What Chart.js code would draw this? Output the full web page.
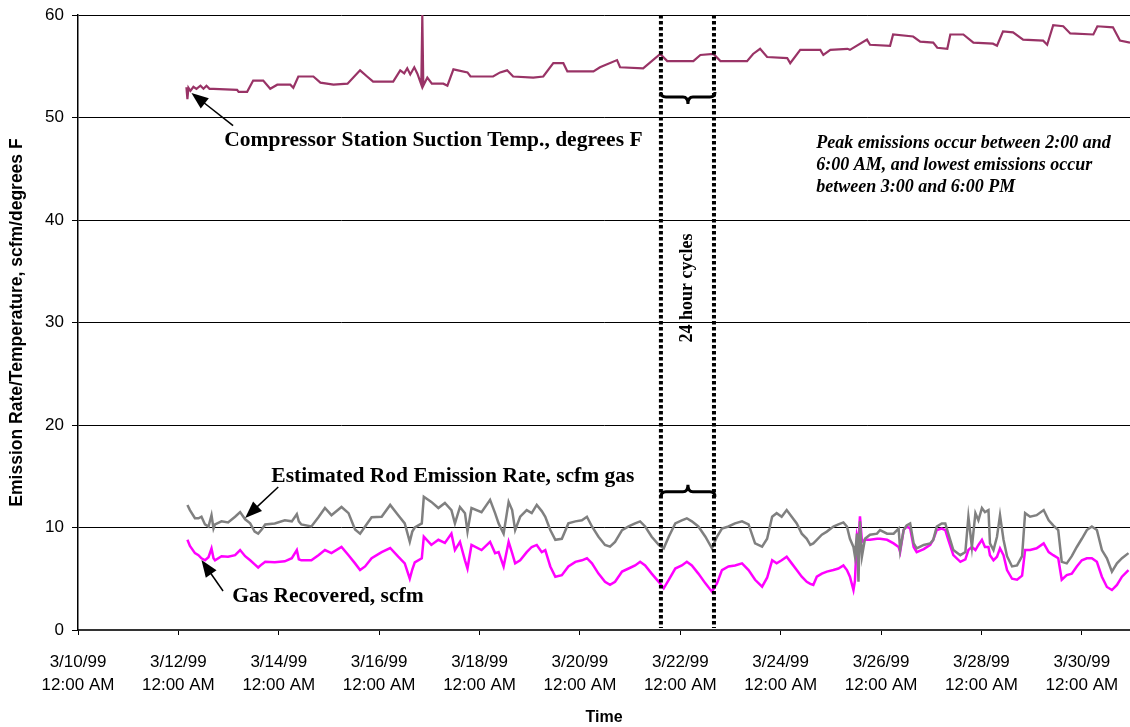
<!DOCTYPE html>
<html>
<head>
<meta charset="utf-8">
<title>Emission rate and suction temperature</title>
<script src="https://cdn.jsdelivr.net/npm/chart.js@4.4.1/dist/chart.umd.min.js"></script>
<style>
  body { margin: 0; background: #fff; }
  #wrap { width: 1130px; height: 727px; }
</style>
</head>
<body>
<div id="wrap"><canvas id="emissionChart"></canvas></div>
<script>
// x values are days since 3/10/99 12:00 AM
const tickDates = ['3/10/99', '3/12/99', '3/14/99', '3/16/99', '3/18/99', '3/20/99',
                   '3/22/99', '3/24/99', '3/26/99', '3/28/99', '3/30/99'];

// Compressor station suction temperature, degrees F
const tempDays = [2.16,2.18,2.20,2.24,2.30,2.36,2.44,2.50,2.56,2.62,
  2.70,3.17,3.20,3.37,3.49,3.69,3.83,3.97,4.23,4.29,
  4.39,4.69,4.83,5.09,5.37,5.62,5.76,5.88,6.28,6.42,
  6.50,6.56,6.62,6.70,6.76,6.84,6.86,6.87,6.88,6.96,
  7.05,7.28,7.36,7.48,7.76,7.82,8.27,8.41,8.55,8.67,
  9.07,9.27,9.47,9.67,9.75,10.27,10.40,10.74,10.80,11.26,
  11.60,11.74,12.26,12.40,12.66,12.80,13.33,13.45,13.59,13.73,
  14.13,14.19,14.39,14.79,14.85,14.99,15.33,15.38,15.72,15.78,
  16.18,16.24,16.64,16.78,17.04,17.12,17.32,17.38,17.64,17.84,
  18.23,18.31,18.43,18.63,18.83,19.23,19.31,19.43,19.63,19.77,
  20.23,20.31,20.62,20.76,20.96];
const tempVals = [52.95,51.8,52.9,52.6,53.0,52.8,53.1,52.8,53.1,52.8,
  52.8,52.7,52.5,52.5,53.6,53.6,52.8,53.2,53.2,52.9,
  54.0,54.0,53.4,53.2,53.3,54.6,54.0,53.5,53.5,54.6,
  54.3,54.8,54.2,54.9,54.3,53.2,60.0,60.0,53.1,53.9,
  53.3,53.3,53.1,54.7,54.4,54.0,54.0,54.4,54.6,54.0,
  53.9,54.0,55.3,55.3,54.5,54.5,54.9,55.6,54.9,54.8,
  56.2,55.5,55.5,56.1,56.2,55.5,55.5,56.2,56.7,55.9,
  55.8,55.3,56.6,56.6,56.1,56.6,56.7,56.6,57.6,57.1,
  57.0,58.1,57.9,57.4,57.3,56.8,56.7,58.1,58.1,57.3,
  57.2,57.0,58.4,58.3,57.6,57.5,57.1,59.0,58.9,58.2,
  58.1,58.9,58.8,57.5,57.3];

// rod emission rate and gas recovered, scfm (same time stamps)
const flowDays = [2.18,2.23,2.33,2.40,2.46,2.53,2.60,2.66,2.70,2.73,
  2.86,2.99,3.13,3.23,3.33,3.43,3.52,3.59,3.66,3.73,
  3.92,4.12,4.26,4.36,4.40,4.45,4.65,4.79,4.92,5.05,
  5.25,5.39,5.52,5.62,5.72,5.85,6.05,6.22,6.38,6.51,
  6.61,6.66,6.71,6.85,6.89,7.04,7.18,7.31,7.44,7.51,
  7.61,7.71,7.76,7.84,8.04,8.21,8.31,
  8.38,8.48,8.58,8.65,8.71,8.81,8.94,9.04,9.14,9.24,
  9.31,9.41,9.51,9.64,9.77,9.91,10.04,10.14,10.24,10.37,
  10.50,10.60,10.70,10.84,10.97,11.10,11.20,11.30,11.43,11.57,
  11.67,11.77,11.90,12.03,12.13,12.23,12.36,12.50,12.63,12.73,
  12.83,12.96,13.09,13.23,13.36,13.49,13.63,13.73,13.83,13.92,
  14.02,14.12,14.22,14.32,14.42,14.52,14.59,
  14.65,14.72,14.82,14.92,15.05,15.15,15.25,15.32,15.38,15.45,
  15.48,15.52,15.55,15.58,15.62,15.68,15.78,15.92,15.98,16.12,
  16.25,16.35,16.38,16.45,16.51,16.58,16.65,16.71,16.85,16.98,
  17.04,17.11,17.21,17.28,17.34,17.44,17.58,17.68,17.74,17.81,
  17.88,17.94,18.01,18.07,18.14,18.17,18.24,18.31,18.37,18.44,
  18.51,18.61,18.71,18.81,18.87,18.97,19.10,19.24,19.34,19.43,
  19.53,19.60,19.70,19.80,19.90,20.00,20.10,20.20,20.30,20.40,
  20.50,20.60,20.70,20.80,20.93];
const rodEmission = [12.2,11.7,10.9,10.9,11.05,10.3,10.1,11.2,9.9,10.3,
  10.6,10.5,11.05,11.5,10.8,10.4,9.6,9.4,9.8,10.3,
  10.4,10.7,10.6,11.3,10.6,10.3,10.1,11.0,11.9,11.2,
  12.0,11.4,9.8,9.4,10.1,11.0,11.05,12.2,11.2,10.4,
  8.6,9.6,10.0,10.4,13.0,12.5,11.9,12.4,11.7,10.4,
  12.0,11.4,9.6,11.9,11.5,12.7,11.4,
  10.4,9.4,12.5,11.7,9.75,11.05,11.7,11.4,12.2,11.6,
  11.05,9.75,8.8,8.9,10.4,10.6,10.7,11.05,10.1,9.1,
  8.3,8.13,8.6,9.75,10.1,10.4,10.6,10.1,9.1,8.3,
  7.97,9.1,10.4,10.7,10.9,10.6,10.1,9.1,7.97,9.1,
  9.9,10.1,10.4,10.6,10.3,8.45,8.13,8.9,11.05,11.4,
  11.05,11.7,11.05,10.4,9.4,8.9,8.3,
  8.45,8.8,9.3,9.6,10.1,10.3,10.5,10.1,8.9,8.1,
  7.2,9.4,4.7,10.6,7.2,8.9,9.3,9.4,9.75,9.4,
  9.4,9.9,7.8,9.75,10.2,10.4,8.45,7.97,8.3,8.45,
  8.8,10.1,10.4,10.4,9.4,7.8,7.3,7.6,11.05,8.1,
  11.4,10.7,11.9,11.5,11.7,8.45,7.8,9.1,11.2,8.8,
  7.2,6.2,6.3,7.2,11.4,11.05,11.2,11.7,10.7,10.2,
  9.75,6.65,6.5,7.2,8.1,8.9,9.75,10.1,9.75,7.8,
  7.0,5.7,6.5,7.0,7.5];
const gasRecovered = [8.8,8.2,7.5,7.3,7.0,6.8,7.1,7.95,7.0,6.8,
  7.2,7.15,7.3,7.8,7.2,6.8,6.4,6.1,6.4,6.65,
  6.6,6.7,7.0,7.8,6.9,6.8,6.8,7.3,7.8,7.5,
  8.1,7.3,6.5,5.85,6.2,7.0,7.6,8.0,7.15,6.5,
  5.0,5.9,6.6,7.0,9.1,8.3,8.8,8.5,9.4,7.8,
  8.6,6.8,6.0,8.3,7.8,8.6,7.5,
  7.6,6.2,8.6,7.5,6.5,6.8,7.6,8.1,8.3,7.6,
  7.8,6.2,5.2,5.35,6.2,6.65,6.8,7.0,6.5,5.5,
  4.7,4.4,4.7,5.7,6.0,6.3,6.65,6.3,5.5,4.7,
  4.07,4.9,6.0,6.3,6.65,6.3,5.5,4.55,3.74,4.55,
  5.85,6.2,6.3,6.5,5.85,4.9,4.23,5.1,6.8,6.5,
  6.8,7.15,6.5,5.85,5.2,4.7,4.5,
  4.4,5.2,5.5,5.7,5.85,6.0,6.3,5.85,5.2,3.9,
  4.8,9.2,8.6,11.1,8.6,8.8,8.8,8.9,8.9,8.8,
  8.45,8.1,7.6,9.75,10.1,9.9,8.1,7.6,7.9,8.3,
  8.8,9.75,9.9,9.75,8.8,7.3,6.65,6.9,7.8,8.1,
  7.8,8.3,8.8,8.1,8.1,7.3,6.8,7.15,7.97,7.3,
  5.85,5.0,4.9,5.3,7.8,7.8,7.97,8.45,7.6,7.3,
  7.0,4.9,5.35,5.5,6.2,6.8,7.0,7.0,6.65,5.2,
  4.2,3.9,4.4,5.2,5.85];

// the two dotted markers bounding one daily cycle
const cycleDays = [11.614, 12.671];
const noteLines = ['Peak emissions occur between 2:00 and',
                   '6:00 AM, and lowest emissions occur',
                   'between 3:00 and 6:00 PM'];

function toPoints(days, vals) {
  return days.map((d, i) => ({ x: d, y: vals[i] }));
}

const serif = '"Liberation Serif", "Times New Roman", serif';

function drawArrow(ctx, x1, y1, x2, y2) {
  const a = Math.atan2(y2 - y1, x2 - x1);
  const len = 17, half = 6.5;
  ctx.beginPath();
  ctx.moveTo(x1, y1);
  ctx.lineTo(x2 - Math.cos(a) * len * 0.7, y2 - Math.sin(a) * len * 0.7);
  ctx.stroke();
  ctx.beginPath();
  ctx.moveTo(x2, y2);
  ctx.lineTo(x2 - len * Math.cos(a) + half * Math.sin(a), y2 - len * Math.sin(a) - half * Math.cos(a));
  ctx.lineTo(x2 - len * Math.cos(a) - half * Math.sin(a), y2 - len * Math.sin(a) + half * Math.cos(a));
  ctx.closePath();
  ctx.fill();
}

// dir 1: tip points down, dir -1: tip points up
function drawBrace(ctx, x1, x2, yy, dir) {
  const xm = (x1 + x2) / 2, c = 5, t = 7;
  ctx.beginPath();
  ctx.moveTo(x1, yy - dir * c);
  ctx.quadraticCurveTo(x1, yy, x1 + c, yy);
  ctx.lineTo(xm - c, yy);
  ctx.quadraticCurveTo(xm, yy, xm, yy + dir * t);
  ctx.quadraticCurveTo(xm, yy, xm + c, yy);
  ctx.lineTo(x2 - c, yy);
  ctx.quadraticCurveTo(x2, yy, x2, yy - dir * c);
  ctx.stroke();
}

const annotate = {
  id: 'annotate',
  afterDatasetsDraw(chart) {
    const { ctx, scales: { x, y } } = chart;
    const px = d => x.getPixelForValue(d);
    const py = v => y.getPixelForValue(v);
    ctx.save();
    ctx.strokeStyle = '#000';
    ctx.fillStyle = '#000';

    // dotted cycle markers
    ctx.lineWidth = 4;
    ctx.setLineDash([3.5, 2.5]);
    cycleDays.forEach(d => {
      ctx.beginPath();
      ctx.moveTo(px(d), py(60));
      ctx.lineTo(px(d), py(0.2));
      ctx.stroke();
    });
    ctx.setLineDash([]);

    // braces
    ctx.lineWidth = 3;
    drawBrace(ctx, px(cycleDays[0]), px(cycleDays[1]) + 1, py(52.0), 1);
    drawBrace(ctx, px(cycleDays[0]), px(cycleDays[1]) + 1, py(13.5), -1);

    // arrows
    ctx.lineWidth = 1.5;
    drawArrow(ctx, px(3.09), py(49.2), px(2.26), py(52.4));
    drawArrow(ctx, px(3.99), py(13.95), px(3.33), py(10.93));
    drawArrow(ctx, px(2.89), py(3.8), px(2.46), py(6.83));

    // series labels
    ctx.textBaseline = 'alphabetic';
    ctx.textAlign = 'left';
    ctx.font = 'bold 21.5px ' + serif;
    ctx.fillText('Compressor Station Suction Temp., degrees F', px(2.914), py(47.25));
    ctx.fillText('Estimated Rod Emission Rate, scfm gas', px(3.851), py(14.47));
    ctx.fillText('Gas Recovered, scfm', px(3.074), py(2.73));

    // note
    ctx.font = 'italic bold 18px ' + serif;
    const noteY = [46.99, 44.88, 42.76];
    noteLines.forEach((s, i) => ctx.fillText(s, px(14.707), py(noteY[i])));

    // rotated cycle label
    ctx.save();
    ctx.translate(px(12.15), py(33.37));
    ctx.rotate(-Math.PI / 2);
    ctx.textAlign = 'center';
    ctx.textBaseline = 'middle';
    ctx.font = 'bold 18px ' + serif;
    ctx.fillText('24 hour cycles', 0, 0);
    ctx.restore();

    ctx.restore();
  }
};

Chart.defaults.font.family = '"Liberation Sans", Arial, sans-serif';
Chart.defaults.color = '#000';

const ctx = document.getElementById('emissionChart').getContext('2d');
new Chart(ctx, {
  type: 'line',
  data: {
    datasets: [
      {
        label: 'Estimated Rod Emission Rate, scfm gas',
        data: toPoints(flowDays, rodEmission),
        borderColor: '#808080',
        borderWidth: 2.5
      },
      {
        label: 'Gas Recovered, scfm',
        data: toPoints(flowDays, gasRecovered),
        borderColor: '#ff00ff',
        borderWidth: 2.5
      },
      {
        label: 'Compressor Station Suction Temp., degrees F',
        data: toPoints(tempDays, tempVals),
        borderColor: '#993366',
        borderWidth: 2.2
      }
    ]
  },
  options: {
    responsive: true,
    maintainAspectRatio: false,
    animation: false,
    layout: { padding: { top: 15, right: 0, left: 0, bottom: 0 } },
    elements: { point: { radius: 0 }, line: { tension: 0 } },
    plugins: { legend: { display: false }, tooltip: { enabled: false } },
    scales: {
      x: {
        type: 'linear',
        min: 0,
        max: 20.96,
        afterFit(scale) {
          scale.height = 97;
          scale.paddingLeft = 0;
          scale.paddingRight = 0;
        },
        ticks: {
          stepSize: 2,
          includeBounds: false,
          maxRotation: 0,
          autoSkip: false,
          padding: 15,
          font: { size: 17, lineHeight: 1.4 },
          callback: v => [tickDates[Math.round(v / 2)], '12:00 AM']
        },
        grid: { drawOnChartArea: false, color: '#000', tickLength: 5 },
        border: { color: '#333', width: 2 },
        title: {
          display: true,
          text: 'Time',
          font: { size: 16, weight: 'bold' },
          padding: { top: 0, bottom: 0 }
        }
      },
      y: {
        min: 0,
        max: 60,
        afterFit(scale) {
          scale.width = 78;
          scale.paddingTop = 0;
          scale.paddingBottom = 0;
        },
        ticks: { stepSize: 10, padding: 8, font: { size: 17 } },
        grid: { color: '#000', lineWidth: 1, tickLength: 6 },
        border: { color: '#000', width: 1.5 },
        title: {
          display: true,
          text: 'Emission Rate/Temperature, scfm/degrees F',
          font: { size: 17.5, weight: 'bold' },
          padding: { top: 7, bottom: 0 }
        }
      }
    }
  },
  plugins: [annotate]
});
</script>
</body>
</html>
